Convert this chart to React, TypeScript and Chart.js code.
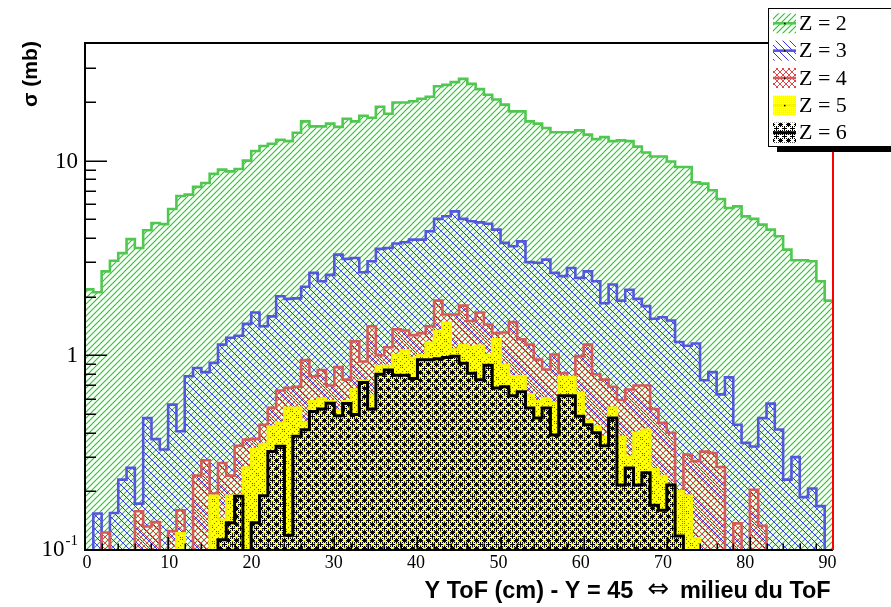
import React, { useEffect, useRef } from 'react';
import { Chart, registerables } from 'chart.js';

Chart.register(...registerables);

// ---------- data ----------
const BIN_LOW = 0;
const BIN_HIGH = 90;

const Z2 = [
  2.18, 2.11, 2.70, 3.06, 3.35, 3.95, 3.56, 4.39, 4.78, 4.72,
  5.64, 6.58, 6.69, 7.33, 7.68, 8.55, 8.99, 8.81, 9.06, 10.0,
  11.2, 11.9, 12.2, 12.8, 12.6, 13.9, 15.9, 15.0, 15.0, 15.5,
  14.9, 16.4, 15.9, 17.0, 16.6, 18.9, 17.4, 19.9, 19.9, 20.2,
  20.8, 21.3, 24.1, 24.5, 25.3, 26.3, 24.8, 23.3, 21.8, 20.6,
  19.4, 17.9, 17.9, 15.9, 15.5, 14.7, 14.0, 14.0, 14.0, 14.3,
  13.6, 12.9, 13.2, 12.6, 12.7, 12.6, 11.8, 11.0, 10.5, 10.5,
  9.9, 9.28, 9.28, 7.74, 7.62, 7.04, 6.35, 5.71, 5.82, 5.17,
  5.02, 4.69, 4.42, 4.09, 3.49, 3.08, 3.08, 3.04, 2.40, 1.91,
];

const Z3 = [
  0, 0.154, 0, 0.155, 0.23, 0.264, 0.173, 0.476, 0.371, 0.328,
  0.558, 0.407, 0.78, 0.86, 0.82, 0.914, 1.135, 1.23, 1.26, 1.45,
  1.66, 1.41, 1.585, 2.01, 1.95, 1.96, 2.25, 2.65, 2.40, 2.59,
  3.29, 3.13, 3.16, 2.67, 3.04, 3.52, 3.56, 3.75, 3.81, 3.93,
  3.93, 4.34, 5.02, 5.18, 5.49, 5.02, 4.88, 4.82, 4.74, 4.42,
  3.78, 3.63, 3.85, 3.01, 2.99, 3.10, 2.65, 2.55, 2.81, 2.50,
  2.70, 2.40, 1.85, 2.31, 1.91, 2.17, 1.95, 1.79, 1.54, 1.57,
  1.51, 1.17, 1.12, 1.15, 0.745, 0.82, 0.63, 0.77, 0.44, 0.355,
  0.34, 0.476, 0.565, 0.416, 0.23, 0.30, 0.187, 0.207, 0.168, 0,
];

const Z4 = [
  0, 0, 0.123, 0, 0, 0, 0.158, 0.132, 0.139, 0,
  0.125, 0.16, 0, 0.241, 0.289, 0.195, 0.28, 0.241, 0.343, 0.369,
  0.372, 0.44, 0.537, 0.66, 0.68, 0.69, 0.945, 0.78, 0.84, 0.70,
  0.87, 0.75, 1.18, 0.93, 1.41, 1.0, 1.1, 1.36, 1.34, 1.27,
  1.30, 1.41, 1.91, 1.62, 1.62, 1.80, 1.50, 1.66, 1.44, 1.30,
  1.31, 1.48, 1.21, 1.135, 0.95, 0.845, 1.01, 0.81, 0.766, 0.99,
  1.135, 0.80, 0.75, 0.69, 0.59, 0.667, 0.70, 0.70, 0.53, 0.45,
  0.40, 0, 0.309, 0.286, 0.32, 0.315, 0.267, 0, 0.137, 0,
  0.204, 0.133, 0, 0, 0, 0, 0, 0, 0, 0,
];

const Z5 = [
  0, 0, 0, 0, 0, 0, 0, 0, 0, 0,
  0, 0.122, 0, 0, 0, 0.19, 0.143, 0.19, 0.19, 0.265,
  0.33, 0.35, 0.43, 0.45, 0.537, 0.537, 0.45, 0.58, 0.60, 0.58,
  0.52, 0.58, 0.667, 0.74, 0.62, 0.88, 0.88, 1.0, 1.06, 0.97,
  1.0, 1.16, 1.33, 1.47, 1.07, 1.13, 1.10, 1.12, 1.0, 1.21,
  0.895, 0.78, 0.78, 0.63, 0.58, 0.60, 0.57, 0.774, 0.774, 0.64,
  0.46, 0.43, 0.38, 0.537, 0.38, 0.30, 0.40, 0.415, 0.26, 0.24,
  0.215, 0.20, 0.19, 0.115, 0, 0, 0, 0, 0, 0,
  0, 0, 0, 0, 0, 0, 0, 0, 0, 0,
];

const Z6 = [
  0, 0, 0, 0, 0, 0, 0, 0, 0, 0,
  0, 0, 0, 0, 0, 0, 0.113, 0.138, 0.189, 0,
  0.138, 0.19, 0.321, 0.341, 0.119, 0.384, 0.415, 0.515, 0.53, 0.567,
  0.49, 0.565, 0.496, 0.725, 0.53, 0.80, 0.84, 0.79, 0.79, 0.76,
  0.95, 0.95, 0.96, 0.975, 0.99, 0.91, 0.81, 0.75, 0.89, 0.68,
  0.69, 0.62, 0.65, 0.537, 0.476, 0.537, 0.39, 0.62, 0.62, 0.486,
  0.44, 0.40, 0.343, 0.476, 0.216, 0.264, 0.216, 0.249, 0.17, 0.16,
  0.216, 0.118, 0, 0, 0, 0, 0, 0, 0, 0,
  0, 0, 0, 0, 0, 0, 0, 0, 0, 0,
];

const SERIES_LABELS = ['Z = 2', 'Z = 3', 'Z = 4', 'Z = 5', 'Z = 6'];
const X_TICKS = [0, 10, 20, 30, 40, 50, 60, 70, 80, 90];
const X_MINOR_STEP = 2;
const Y_MIN = 0.1;
const Y_MAX = 40.2;
const Y_TICKS = [0.1, 1, 10];
const Y_TICK_MANTISSA = ['10', '1', '10'];
const Y_TICK_EXPONENT = ['-1', '', ''];
const X_TITLE_LEFT = 'Y ToF (cm) - Y = 45';
const X_TITLE_ARROW = '\u21D4';
const X_TITLE_RIGHT = 'milieu du ToF';
const Y_TITLE = '\u03C3 (mb)';

// ---------- styles ----------
const SERIES_VALUES = [Z2, Z3, Z4, Z5, Z6];
const LINE_COLORS = ['#50c850', '#5656dc', '#d65a5a', '#f5f500', '#000000'];
const LINE_WIDTHS = [2.6, 2.6, 2.6, 2.6, 3];
const FLOOR = 0.01;

function tile(size: number, draw: (g: CanvasRenderingContext2D) => void): HTMLCanvasElement {
  const c = document.createElement('canvas');
  c.width = size;
  c.height = size;
  const g = c.getContext('2d')!;
  draw(g);
  return c;
}

function strokeDiag(g: CanvasRenderingContext2D, size: number, dir: 1 | -1) {
  for (let o = -size; o <= size; o += size) {
    g.beginPath();
    if (dir === 1) {
      g.moveTo(o - 1, size + 1);
      g.lineTo(o + size + 1, -1);
    } else {
      g.moveTo(o - 1, -1);
      g.lineTo(o + size + 1, size + 1);
    }
    g.stroke();
  }
}

function buildPatterns(ctx: CanvasRenderingContext2D): CanvasPattern[] {
  const green = tile(6, (g) => {
    g.strokeStyle = 'rgb(30,200,30)';
    g.lineWidth = 1.1;
    strokeDiag(g, 6, 1);
  });
  const blue = tile(7, (g) => {
    g.strokeStyle = 'rgb(50,50,230)';
    g.lineWidth = 1;
    strokeDiag(g, 7, -1);
  });
  const red = tile(6, (g) => {
    g.strokeStyle = 'rgb(225,70,70)';
    g.lineWidth = 1;
    strokeDiag(g, 6, 1);
    strokeDiag(g, 6, -1);
  });
  const yellow = tile(2, (g) => {
    g.fillStyle = 'rgb(255,255,0)';
    g.fillRect(0, 0, 1, 1);
    g.fillRect(1, 1, 1, 1);
    g.fillRect(1, 0, 1, 1);
  });
  const black = tile(8, (g) => {
    g.fillStyle = '#000';
    const set = (x: number, y: number) => g.fillRect(((x % 8) + 8) % 8, ((y % 8) + 8) % 8, 1, 1);
    for (let dx = -2; dx <= 2; dx++) {
      for (let dy = -2; dy <= 2; dy++) {
        if (Math.abs(dx) + Math.abs(dy) <= 2) set(4 + dx, 4 + dy);
        if (Math.abs(dx) + Math.abs(dy) <= 1) set(dx, dy);
      }
    }
    set(2, 2);
    set(-2, -2);
    set(2, -2);
    set(-2, 2);
    set(2, 0);
    set(-2, 0);
    set(0, 2);
    set(0, -2);
  });
  return [green, blue, red, yellow, black].map((c) => ctx.createPattern(c, 'repeat')!);
}

export default function App() {
  const ref = useRef<HTMLCanvasElement>(null);

  useEffect(() => {
    const canvas = ref.current!;
    const ctx0 = canvas.getContext('2d')!;
    const patterns = buildPatterns(ctx0);

    const datasets = SERIES_VALUES.map((vals, k) => {
      const pts = vals.map((v, i) => ({ x: BIN_LOW + i, y: v > 0 ? v : FLOOR }));
      const last = vals[vals.length - 1];
      pts.push({ x: BIN_HIGH, y: last > 0 ? last : FLOOR });
      return {
        label: SERIES_LABELS[k],
        data: pts,
        stepped: 'before' as const,
        borderColor: LINE_COLORS[k],
        borderWidth: LINE_WIDTHS[k],
        backgroundColor: patterns[k],
        fill: 'start' as const,
        pointRadius: 0,
        order: SERIES_VALUES.length - k,
      };
    });

    const rootPlugin = {
      id: 'rootStyle',
      afterDatasetsDraw(chart: any) {
        const { ctx, chartArea: a, scales } = chart;
        const xs = scales.x;
        const ys = scales.y;
        ctx.save();
        // ticks on y
        ctx.strokeStyle = '#000';
        ctx.lineWidth = 1.5;
        for (let d = -1; d <= 2; d++) {
          for (let m = 1; m <= 9; m++) {
            const v = m * Math.pow(10, d);
            if (v < Y_MIN - 1e-9 || v > Y_MAX) continue;
            const y = Math.round(ys.getPixelForValue(v)) + 0.25;
            const len = m === 1 ? 22 : 11;
            ctx.beginPath();
            ctx.moveTo(a.left, y);
            ctx.lineTo(a.left + len, y);
            ctx.stroke();
          }
        }
        // ticks on x
        for (let v = BIN_LOW; v <= BIN_HIGH + 1e-9; v += X_MINOR_STEP) {
          const x = Math.round(xs.getPixelForValue(v)) + 0.25;
          const major = X_TICKS.includes(v);
          const len = major ? 13 : 6.5;
          ctx.beginPath();
          ctx.moveTo(x, a.bottom);
          ctx.lineTo(x, a.bottom - len);
          ctx.stroke();
        }
        // frame
        ctx.lineWidth = 2;
        ctx.strokeStyle = '#000';
        ctx.beginPath();
        ctx.moveTo(a.left, a.top);
        ctx.lineTo(a.left, a.bottom);
        ctx.lineTo(a.right, a.bottom);
        ctx.stroke();
        ctx.beginPath();
        ctx.moveTo(a.left - 1, a.top);
        ctx.lineTo(a.right, a.top);
        ctx.stroke();
        ctx.strokeStyle = '#ff0000';
        ctx.beginPath();
        ctx.moveTo(a.right, a.top);
        ctx.lineTo(a.right, a.bottom);
        ctx.stroke();

        // x labels
        ctx.fillStyle = '#000';
        ctx.font = '18px "Liberation Serif"';
        ctx.textAlign = 'center';
        ctx.textBaseline = 'middle';
        X_TICKS.forEach((v) => {
          ctx.fillText(String(v), xs.getPixelForValue(v * 0.99) + 2, a.bottom + 13);
        });

        // y labels
        Y_TICKS.forEach((v, i) => {
          const y = ys.getPixelForValue(v);
          const right = a.left - 7;
          const man = Y_TICK_MANTISSA[i];
          const exp = Y_TICK_EXPONENT[i];
          ctx.textBaseline = 'middle';
          ctx.textAlign = 'right';
          if (exp) {
            ctx.font = '15px "Liberation Serif"';
            const we = ctx.measureText(exp).width;
            ctx.fillText(exp, right, y - 9);
            ctx.font = '23px "Liberation Serif"';
            ctx.fillText(man, right - we - 1, y);
          } else {
            ctx.font = '23px "Liberation Serif"';
            ctx.fillText(man, right, y + 1);
          }
        });

        // x title (text, arrow, text)
        ctx.font = 'bold 24px "Liberation Sans"';
        const wl = ctx.measureText(X_TITLE_LEFT).width;
        const wr = ctx.measureText(X_TITLE_RIGHT).width;
        const fs = (24 * (206.6 + 153)) / (wl + wr);
        ctx.font = `bold ${fs.toFixed(2)}px "Liberation Sans"`;
        ctx.textBaseline = 'alphabetic';
        ctx.textAlign = 'right';
        ctx.fillText(X_TITLE_LEFT, 633.3, 598);
        ctx.textAlign = 'left';
        ctx.fillText(X_TITLE_RIGHT, 680, 598);
        ctx.font = '26px "DejaVu Sans"';
        ctx.textAlign = 'center';
        ctx.fillText(X_TITLE_ARROW, 658.5, 597);

        // y title
        ctx.save();
        ctx.font = 'bold 22px "Liberation Sans"';
        const wy = ctx.measureText(Y_TITLE).width;
        const fy = (22 * 66) / wy;
        ctx.font = `bold ${fy.toFixed(2)}px "Liberation Sans"`;
        ctx.translate(31, 41);
        ctx.rotate(-Math.PI / 2);
        ctx.textAlign = 'right';
        ctx.textBaseline = 'middle';
        ctx.fillText(Y_TITLE, 0, 0);
        ctx.restore();

        // legend
        const lx0 = 768.5;
        const ly0 = 8.5;
        const ly1 = 146.5;
        ctx.fillStyle = '#000';
        ctx.fillRect(777, ly1, 120, 5.5);
        ctx.fillStyle = '#fff';
        ctx.fillRect(lx0, ly0, 130, ly1 - ly0);
        ctx.strokeStyle = '#000';
        ctx.lineWidth = 1;
        ctx.strokeRect(lx0, ly0, 130, ly1 - ly0);
        SERIES_LABELS.forEach((lab, k) => {
          const cy = 23.3 + k * 27.35;
          ctx.fillStyle = patterns[k];
          ctx.fillRect(773, cy - 10, 23, 20);
          ctx.strokeStyle = LINE_COLORS[k];
          ctx.lineWidth = LINE_WIDTHS[k];
          ctx.beginPath();
          ctx.moveTo(773, cy);
          ctx.lineTo(796, cy);
          ctx.stroke();
          ctx.fillStyle = '#000';
          ctx.fillRect(784, cy - 0.5, 1.5, 1.5);
          ctx.font = '22px "Liberation Serif"';
          ctx.textAlign = 'left';
          ctx.textBaseline = 'middle';
          ctx.fillText(lab, 799, cy + 1);
        });
        ctx.restore();
      },
    };

    const chart = new Chart(canvas, {
      type: 'line',
      data: { datasets: datasets as any },
      options: {
        animation: false,
        responsive: false,
        devicePixelRatio: 1,
        events: [],
        layout: { padding: { left: 85, right: 58, top: 43, bottom: 57 } },
        scales: {
          x: { type: 'linear', min: BIN_LOW, max: BIN_HIGH, display: false },
          y: { type: 'logarithmic', min: Y_MIN, max: Y_MAX, display: false },
        },
        plugins: {
          legend: { display: false },
          tooltip: { enabled: false },
        },
      },
      plugins: [rootPlugin],
    });

    return () => chart.destroy();
  }, []);

  return (
    <div style={{ position: 'absolute', left: 0, top: 0, width: 891, height: 607, background: '#fff' }}>
      <canvas ref={ref} width={891} height={607} style={{ display: 'block', width: 891, height: 607 }} />
    </div>
  );
}
